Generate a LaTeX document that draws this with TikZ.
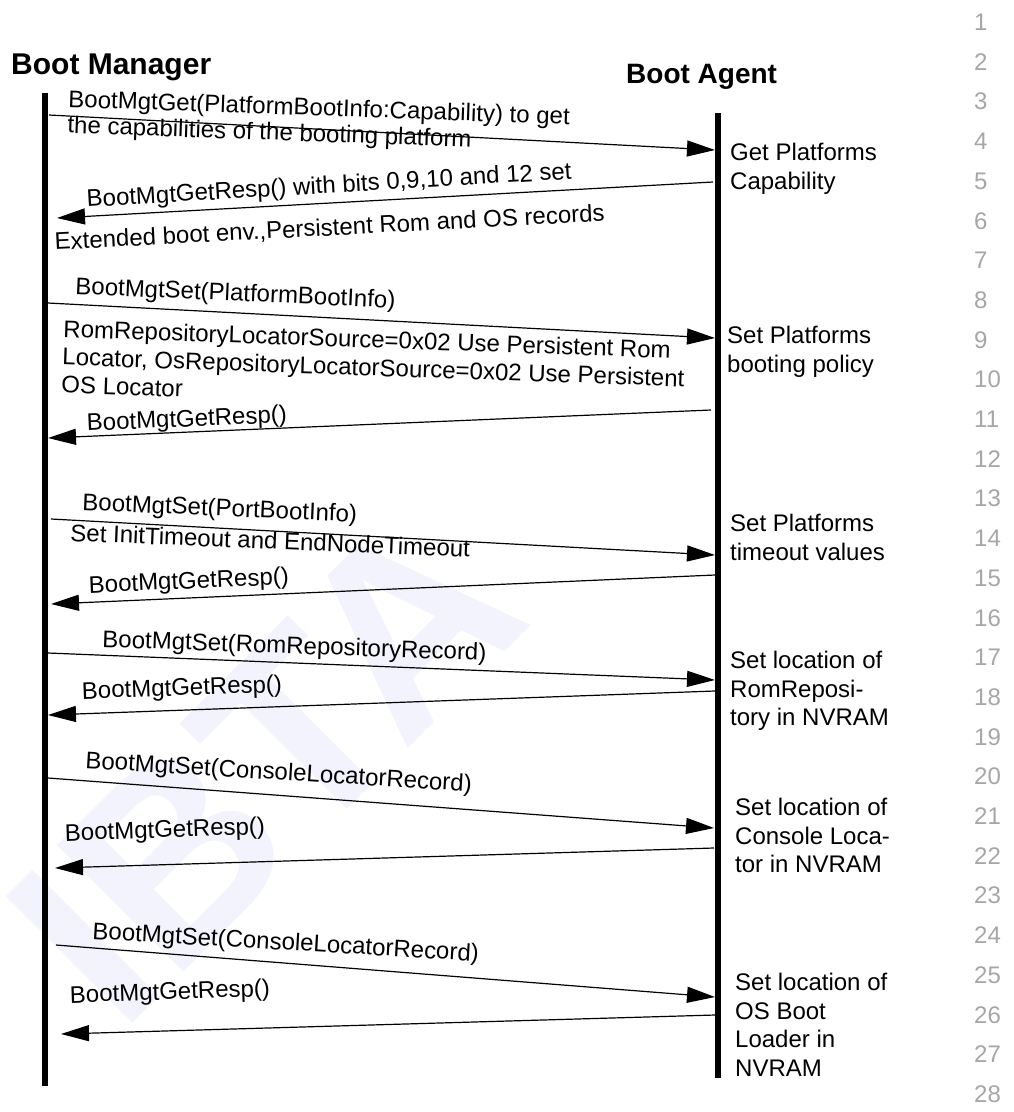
\documentclass[tikz,border=0pt]{standalone}
\usepackage{fontspec}
\setmainfont{Liberation Sans}
\usetikzlibrary{arrows.meta}
\definecolor{wmcol}{RGB}{243,243,253}
\definecolor{numgray}{RGB}{166,166,166}
\begin{document}
\begin{tikzpicture}[x=1pt,y=-1pt,
  lifeline/.style={line width=6.5pt},
  msg/.style={line width=1.2pt,-{Triangle[length=28pt,width=16pt]}},
  lbl/.style={anchor=base west,inner sep=0pt,font=\fontsize{24}{26}\selectfont},
  lblwide/.style={anchor=base west,inner sep=0pt,font=\fontsize{24}{28}\selectfont},
  note/.style={anchor=base west,inner sep=0pt,font=\fontsize{24}{28.5}\selectfont},
  hdr/.style={anchor=base west,inner sep=0pt,font=\bfseries\fontsize{28}{32}\selectfont},
  lnum/.style={anchor=base west,inner sep=0pt,text=numgray,font=\fontsize{24}{28}\selectfont},
  wmk/.style={inner sep=0pt,text=wmcol,font=\bfseries\fontsize{260}{260}\selectfont}]
\useasboundingbox (0,0) rectangle (1014,1112);

% watermark
\node[wmk,rotate=45] (wm) at (265,765) {IBTA};

% headers
\node[hdr,font=\bfseries\fontsize{30}{34}\selectfont] (bm) at (11,74) {Boot Manager};
\node[hdr] (ba) at (626,83) {Boot Agent};

% lifelines
\coordinate (bmtop) at (45,93);
\coordinate (bmbot) at (45,1086);
\coordinate (batop) at (718,113);
\coordinate (babot) at (718,1078);
\draw[lifeline] (bmtop) -- (bmbot);
\draw[lifeline] (batop) -- (babot);

% message end points
\coordinate (m1a) at (49,115);   \coordinate (m1b) at (715,150);
\coordinate (m2a) at (713,182);  \coordinate (m2b) at (57,218);
\coordinate (m3a) at (48,303);   \coordinate (m3b) at (715,338);
\coordinate (m4a) at (711,410);  \coordinate (m4b) at (48,438);
\coordinate (m5a) at (51,519);   \coordinate (m5b) at (715,555);
\coordinate (m6a) at (715,575);  \coordinate (m6b) at (51,604);
\coordinate (m7a) at (48,653);   \coordinate (m7b) at (715,680);
\coordinate (m8a) at (715,691);  \coordinate (m8b) at (48,715);
\coordinate (m9a) at (48,778);   \coordinate (m9b) at (714,828);
\coordinate (m10a) at (714,848); \coordinate (m10b) at (55,868);
\coordinate (m11a) at (56,945);  \coordinate (m11b) at (715,997);
\coordinate (m12a) at (715,1015);\coordinate (m12b) at (61,1034);

\foreach \i in {1,...,12} {\draw[msg] (m\i a) -- (m\i b);}

% message labels
\node[lbl,rotate=-2] (l1) at (68,107) {\vtop{\hbox{BootMgtGet(PlatformBootInfo:Capability) to get}\hbox{the capabilities of the booting platform}}};
\node[lbl,rotate=3.3] (l2a) at (87,207) {BootMgtGetResp() with bits 0,9,10 and 12 set};
\node[lbl,rotate=3] (l2b) at (55,250) {Extended boot env.,Persistent Rom and OS records};
\node[lbl,rotate=-2.5] (l3a) at (75,294) {BootMgtSet(PlatformBootInfo)};
\node[lblwide,rotate=-2] (l3b) at (63,337) {\vtop{\hbox{RomRepositoryLocatorSource=0x02 Use Persistent Rom}\hbox{Locator, OsRepositoryLocatorSource=0x02 Use Persistent}\hbox{OS Locator}}};
\node[lbl,rotate=2.5] (l4) at (87,431) {BootMgtGetResp()};
\node[lbl,rotate=-2.5] (l5a) at (82,510) {BootMgtSet(PortBootInfo)};
\node[lbl,rotate=-2.3] (l5b) at (70,541) {Set InitTimeout and EndNodeTimeout};
\node[lbl,rotate=2.5] (l6) at (89,593) {BootMgtGetResp()};
\node[lbl,rotate=-2] (l7) at (102,647) {BootMgtSet(RomRepositoryRecord)};
\node[lbl,rotate=2] (l8) at (82,699) {BootMgtGetResp()};
\node[lbl,rotate=-3.5] (l9) at (85,768) {BootMgtSet(ConsoleLocatorRecord)};
\node[lbl,rotate=2] (l10) at (65,841) {BootMgtGetResp()};
\node[lbl,rotate=-3.3] (l11) at (92,939) {BootMgtSet(ConsoleLocatorRecord)};
\node[lbl,rotate=2] (l12) at (70,1003) {BootMgtGetResp()};

% agent notes
\node[note] (n1) at (730,160.5) {\vtop{\hbox{Get Platforms}\hbox{Capability}}};
\node[note] (n2) at (727,343.5) {\vtop{\hbox{Set Platforms}\hbox{booting policy}}};
\node[note] (n3) at (730,531.5) {\vtop{\hbox{Set Platforms}\hbox{timeout values}}};
\node[note] (n4) at (730,668.5) {\vtop{\hbox{Set location of}\hbox{RomReposi-}\hbox{tory in NVRAM}}};
\node[note] (n5) at (735,815.5) {\vtop{\hbox{Set location of}\hbox{Console Loca-}\hbox{tor in NVRAM}}};
\node[note] (n6) at (735,990.5) {\vtop{\hbox{Set location of}\hbox{OS Boot}\hbox{Loader in}\hbox{NVRAM}}};

% line numbers
\foreach \n in {1,...,28} {
  \node[lnum] (num\n) at (974,{30.5+(\n-1)*39.7}) {\n};
}
\end{tikzpicture}
\end{document}
